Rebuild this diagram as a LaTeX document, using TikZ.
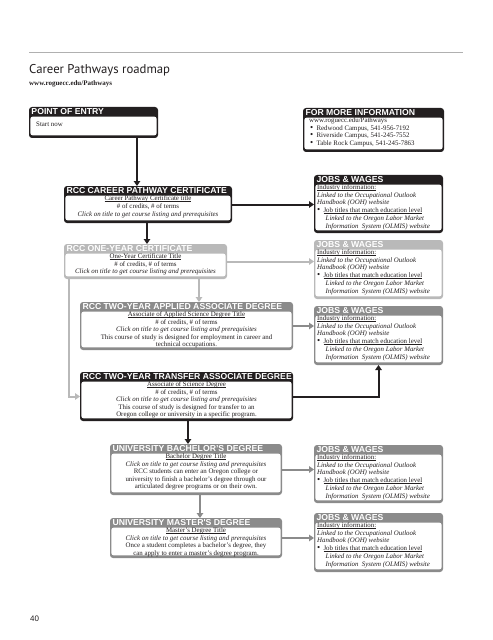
\documentclass[tikz,border=0pt]{standalone}
\usepackage{fontspec}
\setmainfont{Liberation Serif}
\newfontfamily\hdrfont{Liberation Sans}
\newfontfamily\ttlfont{PT Sans}
\usetikzlibrary{arrows.meta,fit}
\definecolor{pwblack}{HTML}{231F20}
\definecolor{pwlight}{HTML}{B9B9B9}
\definecolor{pwmid}{HTML}{8B8B8B}
\definecolor{pwrule}{HTML}{B0B0B0}
\tikzset{
  pwframe/.style={rectangle, rounded corners=3bp, inner sep=0pt, outer sep=0pt},
  hdr/.style={anchor=base west, inner sep=0pt, text=white, font=\hdrfont\bfseries\fontsize{8.7}{9}\selectfont},
  bodyc/.style={anchor=north, inner sep=0pt, align=center, text=pwblack, font=\fontsize{6.9}{7.5}\selectfont},
  bodyl/.style={anchor=north west, inner sep=0pt, align=left, text=pwblack, font=\fontsize{6.9}{7.85}\selectfont},
  conn/.style={line width=2bp, -{Triangle[length=5bp,width=6.5bp]}},
  connB/.style={conn, draw=pwblack},
  connL/.style={conn, draw=pwlight},
  connM/.style={conn, draw=pwmid},
}
\newcommand\pwbox[5]{%
  \node[pwframe, fill=#2, fit={#3 #4}] (#1) {};
  \fill[white, rounded corners=2.5bp] ([shift={(1.3bp,-9.6bp)}]#1.north west) rectangle ([shift={(-1.3bp,2.6bp)}]#1.south east);
  \node[hdr] (#1-t) at ([shift={(2.3bp,-7.8bp)}]#1.north west) {#5};
}
\newcommand\ulx[1]{\setbox0\hbox{#1}\rlap{\rule[-1.1bp]{\wd0}{0.45bp}}\box0}
\newcommand\bul{{\fontsize{9}{7.85}\selectfont\textbullet}}
\newcommand\jobstext{\ulx{Industry information:}\\ \textit{Linked to the Occupational Outlook}\\ \textit{Handbook (OOH) website}\\ \bul\hspace{3.2bp}\ulx{Job titles that match education level}\\ \hspace*{8.5bp}\textit{Linked to the Oregon Labor Market}\\ \hspace*{8.5bp}\textit{Information\ \ System (OLMIS) website}}
\newcommand\clicktext{\textit{Click on title to get course listing and prerequisites}}
\begin{document}
\begin{tikzpicture}[x=1bp,y=-1bp]
\useasboundingbox (0,0) rectangle (493,640);
\fill[white] (0,0) rectangle (493,640);
% header of page
\draw[pwrule, line width=0.8bp] (29,52) -- (463,52);
\node[anchor=base west, inner sep=0pt, text=pwblack, font=\ttlfont\fontsize{12.8}{14}\selectfont] (title) at (29,74) {Career Pathways roadmap};
\node[anchor=base west, inner sep=0pt, text=pwblack, font=\bfseries\fontsize{7}{8}\selectfont] (url) at (29,86) {www.roguecc.edu/Pathways};
% boxes
\pwbox{pe}{pwblack}{(29,107)}{(158,138)}{POINT OF ENTRY}
\node[anchor=base west, inner sep=0pt, text=pwblack, font=\fontsize{6.9}{7.9}\selectfont] (pe-b) at (36,127) {Start now};
\pwbox{fi}{pwblack}{(303,108)}{(444,152)}{FOR MORE INFORMATION}
\node[bodyl, font=\fontsize{6.9}{7.5}\selectfont] (fi-b) at (309,117.8) {www.roguecc.edu/Pathways\\ \hspace*{1bp}\bul\hspace{3.2bp}Redwood Campus, 541-956-7192\\ \hspace*{1bp}\bul\hspace{3.2bp}Riverside Campus, 541-245-7552\\ \hspace*{1bp}\bul\hspace{3.2bp}Table Rock Campus, 541-245-7863};
\pwbox{cp}{pwblack}{(64,186)}{(232,223)}{RCC CAREER PATHWAY CERTIFICATE}
\node[bodyc, font=\fontsize{6.9}{7.9}\selectfont] (cp-b) at (148,195.7) {\ulx{Career Pathway Certificate title}\\ \# of credits, \# of terms\\ \clicktext};
\pwbox{j1}{pwblack}{(314,175)}{(443,233)}{JOBS \& WAGES}
\node[bodyl] (j1-b) at (317,184.3) {\jobstext};
\pwbox{oy}{pwlight}{(64,244)}{(227,279)}{RCC ONE-YEAR CERTIFICATE}
\node[bodyc] (oy-b) at (145.5,253.8) {\ulx{One-Year Certificate Title}\\ \# of credits, \# of terms\\ \clicktext};
\pwbox{j2}{pwlight}{(314,240)}{(443,299)}{JOBS \& WAGES}
\node[bodyl] (j2-b) at (317,249.3) {\jobstext};
\pwbox{ta}{pwmid}{(80,302)}{(293,350)}{RCC TWO-YEAR APPLIED ASSOCIATE DEGREE}
\node[bodyc] (ta-b) at (186.5,311.6) {\ulx{Associate of Applied Science Degree Title}\\ \# of credits, \# of terms\\ \clicktext\\ This course of study is designed for employment in career and\\ technical occupations.};
\pwbox{j3}{pwmid}{(314,306)}{(443,365)}{JOBS \& WAGES}
\node[bodyl] (j3-b) at (317,315.3) {\jobstext};
\pwbox{tt}{pwblack}{(80,372)}{(293,421)}{RCC TWO-YEAR TRANSFER ASSOCIATE DEGREE}
\node[bodyc] (tt-b) at (186.5,381.6) {\ulx{Associate of Science Degree}\\ \# of credits, \# of terms\\ \clicktext\\ This course of study is designed for transfer to an\\ Oregon college or university in a specific program.};
\pwbox{ub}{pwmid}{(110,444)}{(282,495)}{UNIVERSITY BACHELOR’S DEGREE}
\node[bodyc] (ub-b) at (196,453.8) {\ulx{Bachelor Degree Title}\\ \clicktext\\ RCC students can enter an Oregon college or\\ university to finish a bachelor’s degree through our\\ articulated degree programs or on their own.};
\pwbox{j4}{pwmid}{(314,445)}{(443,503)}{JOBS \& WAGES}
\node[bodyl] (j4-b) at (317,454.3) {\jobstext};
\pwbox{um}{pwmid}{(110,518)}{(282,558)}{UNIVERSITY MASTER'S DEGREE}
\node[bodyc] (um-b) at (196,527.8) {\ulx{Master's Degree Title}\\ \clicktext\\ Once a student completes a bachelor's degree, they\\ can apply to enter a master's degree program.};
\pwbox{j5}{pwmid}{(314,513)}{(443,572)}{JOBS \& WAGES}
\node[bodyl] (j5-b) at (317,522.3) {\jobstext};
% page number
\node[anchor=base west, inner sep=0pt, text=pwblack, font=\hdrfont\fontsize{8}{9}\selectfont] (pgno) at (30,621) {40};
% connectors
\coordinate (xa) at (137,0);
\coordinate (xb) at (147,0);
\coordinate (xc) at (199,0);
\coordinate (xd) at (69,0);
\coordinate (xe) at (188,0);
\coordinate (xf) at (200,0);
\draw[connB] (pe.south -| xa) -- (cp.north -| xa);
\draw[connB] (cp.east) -- (j1.west |- cp.east);
\draw[connB] (cp.south -| xb) -- (oy.north -| xb);
\draw[connL] (oy.east) -- (j2.west |- oy.east);
\draw[connL] (oy.south -| xc) -- (ta.north -| xc);
\draw[connL] (oy.south -| xd) |- (tt.west);
\draw[connM] (ta.east) -- (j3.west |- ta.east);
\draw[connB] (tt.east) -| (j3.south);
\draw[connB] (tt.south -| xe) -- (ub.north -| xe);
\draw[connM] (ub.east) -- (j4.west |- ub.east);
\draw[connM] (ub.south -| xf) -- (um.north -| xf);
\draw[connM] (um.east) -- (j5.west |- um.east);
\end{tikzpicture}
\end{document}
